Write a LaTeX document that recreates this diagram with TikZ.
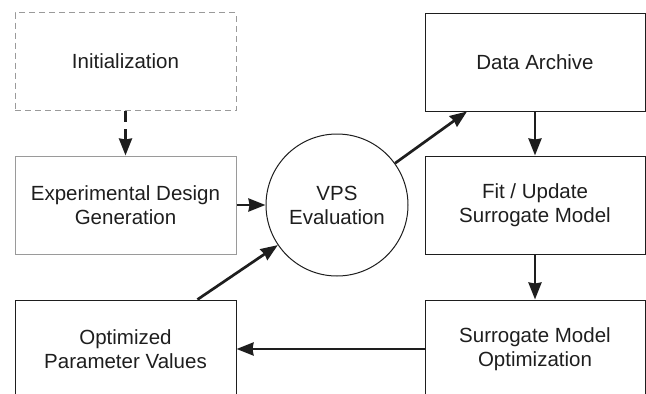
\documentclass[tikz,border=0pt]{standalone}
\usepackage{fontspec}
\setmainfont{Liberation Sans}
\usetikzlibrary{arrows.meta}
\definecolor{ink}{HTML}{1E1E1E}
\definecolor{lightgray}{HTML}{9A9A9A}
\tikzset{
  box/.style={draw=ink, line width=1pt, rectangle, minimum width=221pt, minimum height=98pt,
    align=center, text=ink, font=\fontsize{20.5}{24}\selectfont, inner sep=0pt},
  graybox/.style={box, draw=lightgray},
  dashbox/.style={box, draw=lightgray, dash pattern=on 6pt off 4pt},
  roundnode/.style={draw=ink, line width=1pt, circle, minimum size=142pt, align=center,
    text=ink, font=\fontsize{20.5}{24}\selectfont, inner sep=0pt},
  arr/.style={draw=ink, line width=2.7pt, -{Stealth[length=17pt,width=13pt,inset=1pt]}},
  dasharr/.style={arr, dash pattern=on 11pt off 7pt}
}
\begin{document}
\begin{tikzpicture}[x=1pt,y=-1pt]
\useasboundingbox (0,0) rectangle (646,394);
\clip (0,0) rectangle (646,394);
\node[dashbox] (init) at (125.5,61.5) {Initialization};
\node[graybox] (exp) at (125.5,205) {Experimental Design\\Generation};
\node[box] (opt) at (125.5,349) {Optimized\\Parameter Values};
\node[roundnode] (vps) at (337,205) {VPS\\Evaluation};
\node[box, minimum width=220pt] (da) at (535,62) {Data Archive};
\node[box, minimum width=220pt] (fit) at (535,205) {Fit / Update\\Surrogate Model};
\node[box, minimum width=220pt] (sopt) at (535,349) {Surrogate Model\\Optimization};
\draw[dasharr] (init) -- (exp);
\draw[arr] (exp) -- (vps);
\draw[arr] (vps) -- ([xshift=-68pt]da.south);
\draw[arr] (da) -- (fit);
\draw[arr] (fit) -- (sopt);
\draw[arr] (sopt) -- (opt);
\draw[arr] ([xshift=72pt]opt.north) -- (vps);
\end{tikzpicture}
\end{document}
